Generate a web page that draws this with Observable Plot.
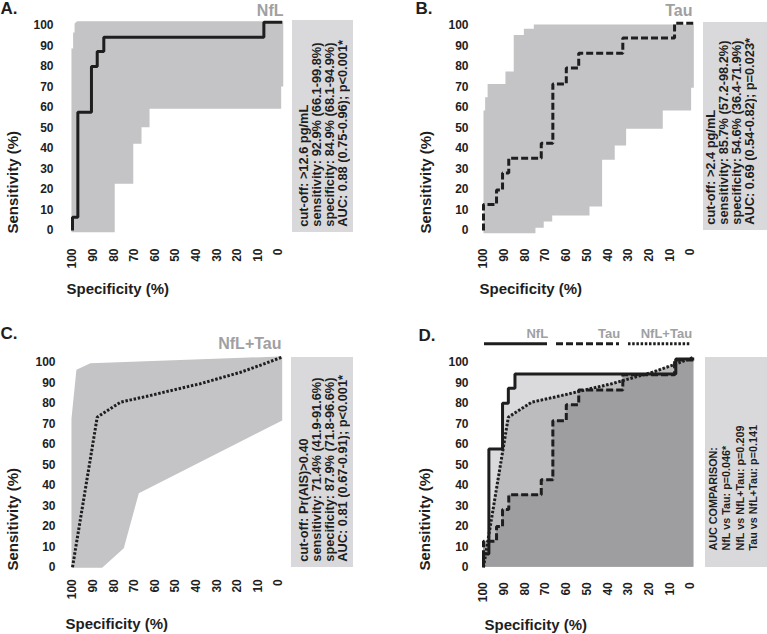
<!DOCTYPE html>
<html><head><meta charset="utf-8">
<script src="https://cdn.jsdelivr.net/npm/d3@7"></script>
<script src="https://cdn.jsdelivr.net/npm/@observablehq/plot@0.6"></script>
<style>
body{margin:0;background:#fff;}
#root{position:relative;width:767px;height:634px;overflow:hidden;font-family:"Liberation Sans",Arial,sans-serif;}
.panel{position:absolute;}
.box{position:absolute;background:#d9d9db;display:flex;align-items:flex-end;justify-content:flex-start;box-sizing:border-box;}
.box .t{writing-mode:vertical-rl;transform:rotate(180deg);font-weight:bold;color:#1e1e1e;white-space:nowrap;}
</style></head><body><div id="root"></div>
<script>
// ---- data (specificity %, sensitivity %) ----
const ticks = [100, 90, 80, 70, 60, 50, 40, 30, 20, 10, 0];

// NfL ROC curve (step)
const nflSpec = [100, 100, 97.4, 90.8, 88.0, 84.8, 7.1, -1.8];
const nflSens = [0, 6.5, 57.7, 80.0, 87.3, 94.3, 101.6, 101.6];

// Tau ROC curve (step)
const tauSpec = [100, 100, 93.7, 90.8, 87.8, 72.1, 66.5, 60.0, 54.0, 32.7, 7.7, -1.6];
const tauSens = [0, 12.7, 19.8, 28.1, 35.3, 42.6, 71.5, 79.3, 86.5, 93.9, 101.1, 101.1];

// NfL+Tau combined ROC curve
const comboSpec = [100, 88.0, 76.7, 62.0, 50.0, 38.0, 18.4, 8.0, -1.5];
const comboSens = [0, 73.2, 80.5, 83.8, 86.7, 89.5, 95.1, 98.8, 102.4];

// confidence bands (polygon outlines)
const bandNflSpec = [100.5, 100.5, 99.7, 99.7, 99.0, 99.0, 97.7, -2.3, -2.3, -1.3, -1.3, 62.6, 62.6, 66.5, 66.5, 70.5, 70.5, 79.5, 79.5];
const bandNflSens = [-0.8, 88.8, 88.8, 96.6, 96.6, 101.0, 102.1, 102.1, 70.2, 70.2, 59.4, 59.4, 50.4, 50.4, 42.3, 42.3, 22.8, 22.8, -0.8];

const bandTauSpec = [100, 100, 99.2, 99.2, 98, 98, 89.4, 89.4, 85.4, 85.4, 80.5, 80.5, 75.7, 75.7, -1.6, -1.6, -0.3, -0.3, 13.4, 13.4, 31.1, 31.1, 36.6, 36.6, 42.7, 42.7, 48.8, 48.8, 66.8, 66.8, 70.9, 70.9, 74.9, 74.9];
const bandTauSens = [-1.3, 58.5, 58.5, 65, 65, 71.5, 71.5, 77.6, 77.6, 95.4, 95.4, 98.4, 98.4, 100.5, 100.5, 69.6, 69.6, 58.5, 58.5, 49.6, 49.6, 41.5, 41.5, 34.5, 34.5, 11.7, 11.7, 7.3, 7.3, 4.4, 4.4, 1.3, 1.3, -1.3];

const bandComboSpec = [100.5, 100.5, 98.1, 91.3, -1.0, -1.8, -1.8, 67.8, 75.1, 85.6];
const bandComboSens = [-0.3, 72.4, 96.3, 99.5, 102.8, 102.8, 71.6, 36.1, 9.3, -0.3];

const legendNames = ["NfL", "Tau", "NfL+Tau"];
const legendDash = [null, "7,3", "2.5,1.7"];

const textA = ["cut-off: >12.6 pg/mL", "sensitivity: 92.9% (66.1-99.8%)", "specificity: 84.9% (68.1-94.9%)", "AUC: 0.88 (0.75-0.96); p<0.001*"];
const textB = ["cut-off: >2.4 pg/mL", "sensitivity: 85.7% (57.2-98.2%)", "specificity: 54.6% (36.4-71.9%)", "AUC: 0.69 (0.54-0.82); p=0.023*"];
const textC = ["cut-off: Pr(AIS)>0.40", "sensitivity: 71.4% (41.9-91.6%)", "specificity: 87.9% (71.8-96.6%)", "AUC: 0.81 (0.67-0.91); p<0.001*"];
const textD = ["AUC COMPARISON:", "NfL vs Tau: p=0.046*", "NfL vs NfL+Tau: p=0.209", "Tau vs NfL+Tau: p=0.141"];

// ---- helpers ----
const pts = (xs, ys) => xs.map((s, i) => ({s, v: ys[i]}));
const nfl = pts(nflSpec, nflSens), tau = pts(tauSpec, tauSens), combo = pts(comboSpec, comboSens);
const INK = "#1e1e1e", BAND = "#c4c4c7", GREY = "#a0a0a2";
const FONT = '"Liberation Sans", Arial, sans-serif';

const lineOpts = {x: "s", y: "v", stroke: INK, strokeWidth: 3, strokeLinecap: "butt", strokeLinejoin: "miter"};
const nflLine = () => Plot.line(nfl, {...lineOpts, curve: "step-after"});
const tauLine = () => Plot.line(tau, {...lineOpts, curve: "step-after", strokeDasharray: "7,3"});
const comboLine = () => Plot.line(combo, {...lineOpts, strokeDasharray: "2.5,1.7"});
const band = (xs, ys) => Plot.line(pts(xs, ys), {x: "s", y: "v", fill: BAND, stroke: "none"});

function panel(o) {
  return Plot.plot({
    width: o.width, height: o.height,
    marginTop: o.mt, marginBottom: o.mb, marginLeft: o.ml, marginRight: o.mr,
    style: {fontFamily: FONT, fontWeight: "bold", fontSize: "12px", color: INK, background: "transparent", overflow: "visible"},
    x: {domain: [100, 0], range: o.xRange},
    y: {domain: [0, 100], range: o.yRange},
    marks: [
      ...o.marks,
      Plot.axisX({ticks, tickRotate: -90, tickSize: 0, tickPadding: o.xPad, textAnchor: "end", lineAnchor: "middle", label: null, fontSize: 12}),
      Plot.axisY({ticks, tickSize: 0, tickPadding: o.yPad, label: null, fontSize: 12}),
      Plot.text([o.letter], {text: d => d, frameAnchor: "top-left", textAnchor: "start", lineAnchor: "middle", dx: o.letterDx, dy: o.letterDy, fontSize: 17, fontWeight: "bold", fill: INK}),
      ...(o.title ? [Plot.text([o.title], {text: d => d, frameAnchor: "top-right", textAnchor: "end", lineAnchor: "middle", dx: o.titleDx, dy: o.titleDy, fontSize: 16, fontWeight: "bold", fill: GREY})] : []),
      Plot.text(["Sensitivity (%)"], {text: d => d, frameAnchor: "bottom-left", rotate: -90, textAnchor: "start", lineAnchor: "middle", dx: o.ylDx, dy: o.ylDy, fontSize: 15, fontWeight: "bold", fill: INK}),
      Plot.text(["Specificity (%)"], {text: d => d, frameAnchor: "bottom-left", textAnchor: "start", lineAnchor: "middle", dx: o.xlDx, dy: o.xlDy, fontSize: 15, fontWeight: "bold", fill: INK})
    ]
  });
}

const root = document.getElementById("root");
function place(node, left, top) {
  node.classList.add("panel");
  node.style.left = left + "px";
  node.style.top = top + "px";
  root.appendChild(node);
}
function box(lines, left, top, w, h, padL, padB, fs, lh) {
  const b = document.createElement("div");
  b.className = "box";
  Object.assign(b.style, {left: left + "px", top: top + "px", width: w + "px", height: h + "px", paddingLeft: padL + "px", paddingBottom: padB + "px"});
  const t = document.createElement("div");
  t.className = "t";
  t.style.fontSize = fs + "px";
  t.style.lineHeight = lh + "px";
  t.innerHTML = lines.map(l => l.replace(/&/g, "&amp;").replace(/</g, "&lt;").replace(/>/g, "&gt;")).join("<br>");
  b.appendChild(t);
  root.appendChild(b);
}

// Panel A
place(panel({
  width: 290, height: 305, mt: 20, mb: 73, ml: 71, mr: 7,
  xRange: [72, 278], yRange: [230, 25], xPad: 16, yPad: 18,
  letter: "A.", letterDx: -71, letterDy: -11.5,
  title: "NfL", titleDx: 0, titleDy: -10,
  ylDx: -58.5, ylDy: 1, xlDx: -5, xlDy: 57,
  marks: [band(bandNflSpec, bandNflSens), nflLine()]
}), 0, 0);

// Panel B
place(panel({
  width: 310, height: 305, mt: 20, mb: 73, ml: 92, mr: 6,
  xRange: [93, 300], yRange: [230, 25], xPad: 16, yPad: 14,
  letter: "B.", letterDx: -67, letterDy: -12,
  title: "Tau", titleDx: -2, titleDy: -10,
  ylDx: -56, ylDy: 1, xlDx: -3, xlDy: 57,
  marks: [band(bandTauSpec, bandTauSens), tauLine()]
}), 390, 0);

// Panel C
place(panel({
  width: 290, height: 314, mt: 36, mb: 65.3, ml: 71, mr: 7,
  xRange: [72, 278], yRange: [246.7, 41.7], xPad: 10, yPad: 16,
  letter: "C.", letterDx: -71, letterDy: -22.5,
  title: "NfL+Tau", titleDx: -2, titleDy: -13,
  ylDx: -58.5, ylDy: 1.3, xlDx: -6, xlDy: 55.3,
  marks: [band(bandComboSpec, bandComboSens), comboLine()]
}), 0, 320);

// Panel D
place(panel({
  width: 310, height: 314, mt: 36, mb: 65.3, ml: 92, mr: 6,
  xRange: [93, 300], yRange: [246.7, 41.7], xPad: 13, yPad: 14,
  letter: "D.", letterDx: -64, letterDy: -21,
  title: null,
  ylDx: -57, ylDy: 1.3, xlDx: 2, xlDy: 56.3,
  marks: [
    Plot.areaY(nfl, {x: "s", y: "v", curve: "step-after", fill: "#dadadc"}),
    Plot.areaY(combo, {x: "s", y: "v", fill: "#bcbcbf"}),
    Plot.areaY(tau, {x: "s", y: "v", curve: "step-after", fill: "#9e9ea1"}),
    nflLine(), tauLine(), comboLine()
  ]
}), 390, 320);

// Legend for panel D
const bw = 210 / (3 - 0.12) * (1 - 0.12);
place(Plot.plot({
  width: 310, height: 34, margin: 0,
  style: {fontFamily: FONT, background: "transparent", overflow: "visible"},
  x: {type: "band", domain: legendNames, range: [93, 303], paddingInner: 0.12, paddingOuter: 0, axis: null},
  y: {domain: [0, 1], range: [23.3, 13], axis: null},
  marks: [
    ...legendNames.map((n, i) => Plot.tickY([n], {x: d => d, y: () => 0, stroke: INK, strokeWidth: 3, strokeLinecap: "butt", ...(legendDash[i] ? {strokeDasharray: legendDash[i]} : {})})),
    Plot.text(legendNames, {x: d => d, y: () => 1, text: d => d, dx: bw / 2, textAnchor: "end", lineAnchor: "middle", fill: GREY, fontSize: 13, fontWeight: "bold"})
  ]
}), 390, 320);

// side text boxes
box(textA, 292, 20, 61, 212, 4.5, 5, 12.8, 13);
box(textB, 703, 22, 64, 208, 0.8, 5, 12.8, 13);
box(textC, 291, 357, 62, 210, 5.8, 5.5, 12.8, 13);
box(textD, 705, 357, 62, 210, 1.7, 16, 10.8, 13.3);
</script></body></html>
